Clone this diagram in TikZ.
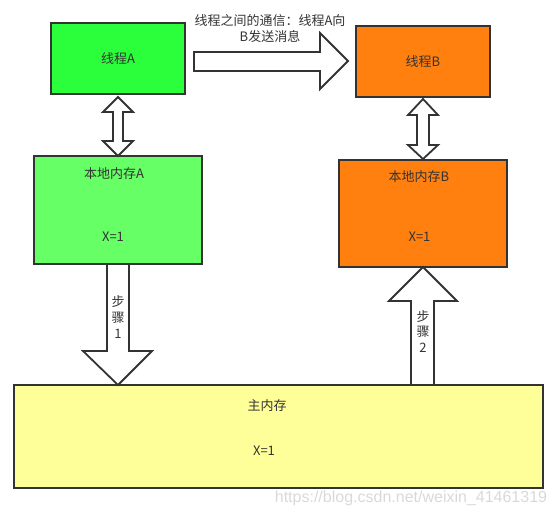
\documentclass[tikz,border=0pt]{standalone}
\usepackage{fontspec}
\setmainfont{Noto Sans CJK SC}
\newfontfamily\markfont{Liberation Sans}
\definecolor{edge}{HTML}{333333}
\definecolor{thgreen}{HTML}{2BFF3B}
\definecolor{memgreen}{HTML}{66FF66}
\definecolor{thorange}{HTML}{FF800E}
\definecolor{mainyellow}{HTML}{FFFF99}
\tikzset{
  box/.style={draw=edge, line width=2pt, rectangle, inner sep=0pt},
  lbl/.style={text=edge, font=\fontsize{13}{16}\selectfont, inner sep=0pt},
  blockarrow/.style={draw=edge, fill=white, line width=1.8pt, line join=miter},
}

\begin{document}
\begin{tikzpicture}[x=1pt,y=-1pt]
\useasboundingbox (0,0) rectangle (557,517);
% threads
\node[box, fill=thgreen, minimum width=134pt, minimum height=71pt] (thA) at (118,58.5) {};
\node[box, fill=thorange, minimum width=134pt, minimum height=71pt] (thB) at (423,61.5) {};
\node[lbl] (thAt) at (thA) {线程A};
\node[lbl] (thBt) at (thB) {线程B};
% local memories
\node[box, fill=memgreen, minimum width=168pt, minimum height=108pt] (memA) at (118,210) {};
\node[box, fill=thorange, minimum width=168pt, minimum height=107pt] (memB) at (423,213.5) {};
\node[lbl] (memAt) at (114,174) {本地内存A};
\node[lbl] (memAx) at (113,237) {X=1};
\node[lbl] (memBt) at (419,177) {本地内存B};
\node[lbl] (memBx) at (419.5,237) {X=1};
% main memory
\node[box, fill=mainyellow, minimum width=529pt, minimum height=103pt] (mainmem) at (278.5,436.5) {};
\node[lbl] (maint) at (267,406) {主内存};
\node[lbl] (mainx) at (264,451) {X=1};
% message arrow A -> B
\path[blockarrow] (194,52) -- (320,52) -- (320,33) -- (348,61) -- (320,89) -- (320,71) -- (194,71) -- cycle;
\node[lbl, align=center] (msg) at (270,29) {线程之间的通信：线程A向\\B发送消息};
% thread <-> local memory
\path[blockarrow] (118,97) -- (133,112) -- (123,112) -- (123,141) -- (133,141) -- (118,156)
  -- (103,141) -- (113,141) -- (113,112) -- (103,112) -- cycle;
\path[blockarrow] (423,99) -- (438,115) -- (429,115) -- (429,145) -- (438,145) -- (423,159)
  -- (408,145) -- (417,145) -- (417,115) -- (408,115) -- cycle;
% step 1: local A -> main
\path[blockarrow] (107,264) -- (129,264) -- (129,351) -- (152,351) -- (118,385)
  -- (83,351) -- (107,351) -- cycle;
\node[lbl] (s1a) at (118,302) {步};
\node[lbl] (s1b) at (118,318) {骤};
\node[lbl] (s1c) at (118,334) {1};
% step 2: main -> local B
\path[blockarrow] (411,385) -- (411,301) -- (389,301) -- (423,267) -- (457,301)
  -- (434,301) -- (434,385) -- cycle;
\node[lbl] (s2a) at (423,317) {步};
\node[lbl] (s2b) at (423,332) {骤};
\node[lbl] (s2c) at (423,348) {2};
% watermark
\node[text=black!15, font=\markfont\fontsize{16}{18}\selectfont, inner sep=0pt] (mark) at (411,498) {https://blog.csdn.net/weixin\_41461319};
\end{tikzpicture}
\end{document}
